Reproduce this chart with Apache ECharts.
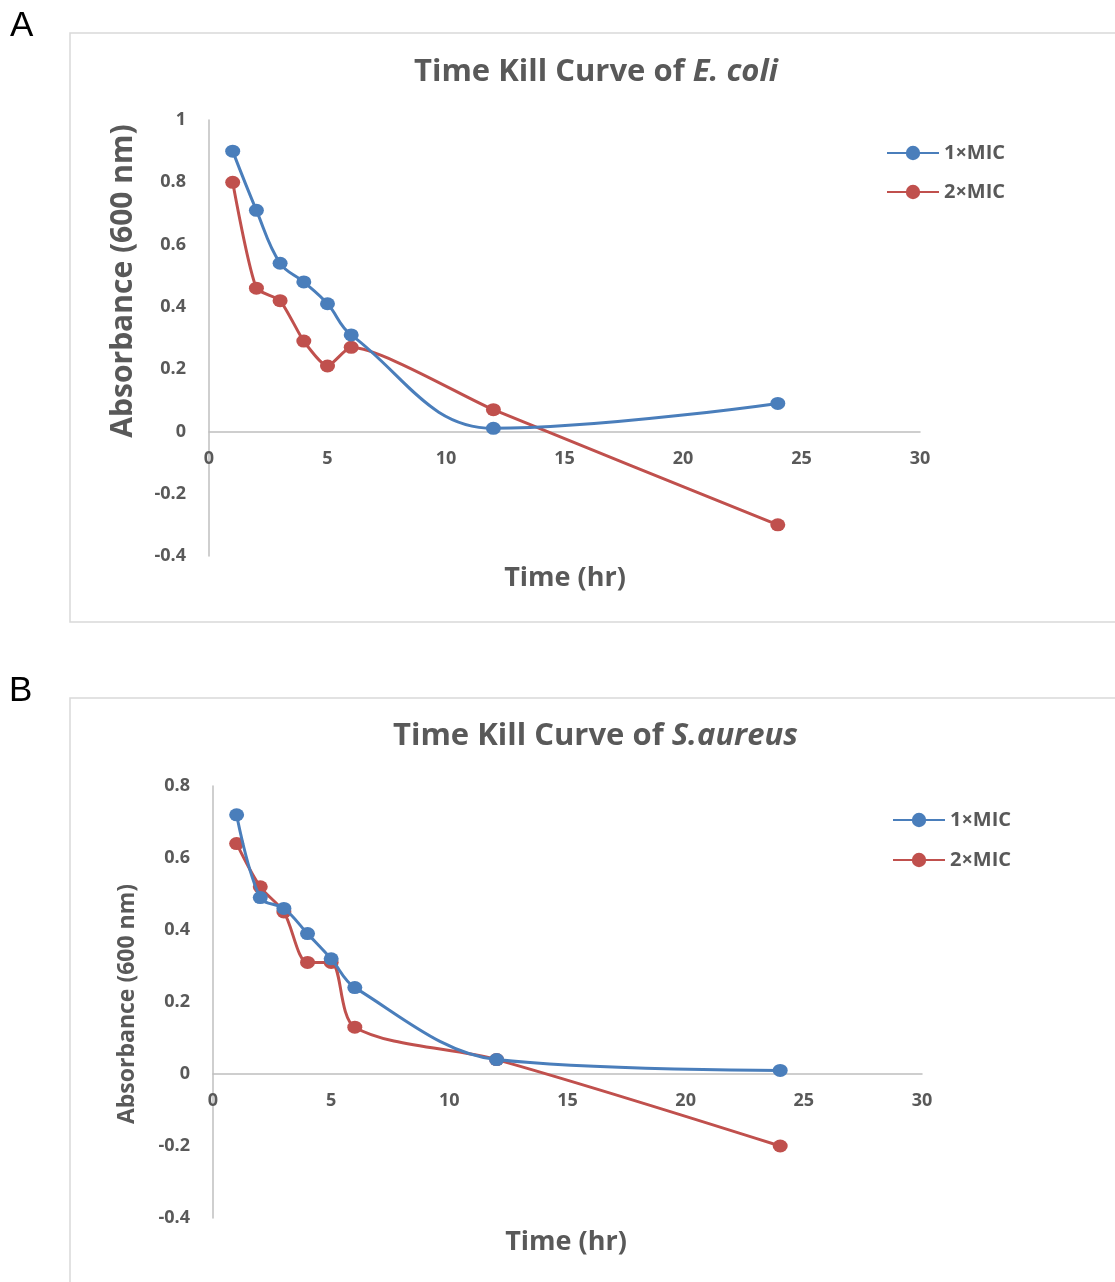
<!DOCTYPE html>
<html lang="en">
  <head>
    <meta charset="UTF-8" />
    <title>Time Kill Curves</title>
    <script src="https://cdn.jsdelivr.net/npm/echarts@6/dist/echarts.min.js"></script>
    <style>
      html,
      body {
        margin: 0;
        padding: 0;
        background: #fff;
      }
    </style>
  </head>
  <body>
    <div id="main" style="width: 1115px; height: 1282px"></div>
    <script>
      // sampling times (hr)
      var hours = [1, 2, 3, 4, 5, 6, 12, 24];
      // E. coli absorbance (600 nm)
      var ecoli1x = [0.9, 0.71, 0.54, 0.48, 0.41, 0.31, 0.01, 0.09];
      var ecoli2x = [0.8, 0.46, 0.42, 0.29, 0.21, 0.27, 0.07, -0.3];
      // S. aureus absorbance (600 nm)
      var saureus1x = [0.72, 0.49, 0.46, 0.39, 0.32, 0.24, 0.04, 0.01];
      var saureus2x = [0.64, 0.52, 0.45, 0.31, 0.31, 0.13, 0.04, -0.2];
      var seriesNames = ["1×MIC", "2×MIC"];

      var blue = "#4A7EBB";
      var red = "#C0504D";
      var grey = "#595959";
      var axisGrey = "#bfbfbf";

      // two panels: grid box + y range
      var grids = [
        { left: 209, top: 120, width: 711, height: 436, yMin: -0.4, yMax: 1 },
        { left: 213, top: 786, width: 709, height: 432, yMin: -0.4, yMax: 0.8 },
      ];

      function pairs(xs, ys) {
        return xs.map(function (x, i) {
          return [x, ys[i]];
        });
      }

      function lineSeries(name, data, color, idx, smooth) {
        return {
          name: name,
          type: "line",
          xAxisIndex: idx,
          yAxisIndex: idx,
          data: data,
          smooth: smooth,
          symbol: "circle",
          symbolSize: [15, 13],
          color: color,
          lineStyle: { width: 3, color: color },
          itemStyle: { color: color },
          z: name === seriesNames[0] ? 3 : 2,
        };
      }

      var tickFont = {
        color: grey,
        fontFamily: "Open Sans",
        fontWeight: "bold",
        fontSize: 18,
      };

      // x axis sits on the zero line, labels below it (Excel style)
      function xAxisOf(idx) {
        var g = grids[idx];
        var zeroUp = (g.height * (0 - g.yMin)) / (g.yMax - g.yMin);
        return {
          type: "value",
          gridIndex: idx,
          min: 0,
          max: 30,
          interval: 5,
          offset: -zeroUp,
          axisLine: { onZero: false, lineStyle: { color: axisGrey, width: 1.5 } },
          axisTick: { show: false },
          splitLine: { show: false },
          axisLabel: Object.assign({ margin: 18 }, tickFont),
        };
      }

      function yAxisOf(idx) {
        var g = grids[idx];
        return {
          type: "value",
          gridIndex: idx,
          min: g.yMin,
          max: g.yMax,
          interval: 0.2,
          axisLine: { show: true, onZero: false, lineStyle: { color: axisGrey, width: 1.5 } },
          axisTick: { show: false },
          splitLine: { show: false },
          axisLabel: Object.assign({ margin: 23 }, tickFont),
        };
      }

      var titleRich = {
        n: { fontFamily: "Open Sans", fontWeight: "bold", fontSize: 31, color: grey },
        i: { fontFamily: "Open Sans", fontWeight: "bold", fontStyle: "italic", fontSize: 31, color: grey },
      };
      var legendText = { color: grey, fontFamily: "Open Sans", fontWeight: "bold", fontSize: 20 };

      var myChart = echarts.init(document.getElementById("main"));

      var option = {
        backgroundColor: "#fff",
        animation: false,
        title: [
          {
            text: "{n|Time Kill Curve of }{i|E. coli}",
            left: 409,
            top: 52,
            textStyle: { rich: titleRich },
          },
          {
            text: "{n|Time Kill Curve of }{i|S.aureus}",
            left: 388,
            top: 716,
            textStyle: { rich: titleRich },
          },
        ],
        legend: [
          {
            data: seriesNames,
            orient: "vertical",
            left: 881,
            top: 138,
            itemWidth: 52,
            itemHeight: 18,
            itemGap: 19,
            textStyle: legendText,
          },
          {
            data: seriesNames,
            orient: "vertical",
            left: 887,
            top: 805,
            itemWidth: 52,
            itemHeight: 18,
            itemGap: 20,
            textStyle: legendText,
          },
        ],
        grid: grids.map(function (g) {
          return { left: g.left, top: g.top, width: g.width, height: g.height };
        }),
        xAxis: [xAxisOf(0), xAxisOf(1)],
        yAxis: [yAxisOf(0), yAxisOf(1)],
        series: [
          lineSeries(seriesNames[0], pairs(hours, ecoli1x), blue, 0, 0.4),
          lineSeries(seriesNames[1], pairs(hours, ecoli2x), red, 0, 0.2),
          lineSeries(seriesNames[0], pairs(hours, saureus1x), blue, 1, 0.35),
          lineSeries(seriesNames[1], pairs(hours, saureus2x), red, 1, 0.3),
        ],
        graphic: [
          // panel frames
          {
            type: "rect",
            shape: { x: 70, y: 33, width: 1060, height: 589 },
            style: { fill: "none", stroke: "#d9d9d9", lineWidth: 1.5 },
            silent: true,
          },
          {
            type: "rect",
            shape: { x: 70, y: 698, width: 1060, height: 620 },
            style: { fill: "none", stroke: "#d9d9d9", lineWidth: 1.5 },
            silent: true,
          },
          // panel letters
          {
            type: "text",
            x: 10,
            y: 9,
            style: { text: "A", font: "35px 'Liberation Sans'", fill: "#000" },
          },
          {
            type: "text",
            x: 9,
            y: 674,
            style: { text: "B", font: "35px 'Liberation Sans'", fill: "#000" },
          },
          // axis names
          {
            type: "text",
            x: 123,
            y: 281,
            rotation: Math.PI / 2,
            style: {
              text: "Absorbance (600 nm)",
              font: "bold 30px 'Open Sans'",
              fill: grey,
              align: "center",
              verticalAlign: "middle",
            },
          },
          {
            type: "text",
            x: 565,
            y: 578,
            style: {
              text: "Time (hr)",
              font: "bold 27px 'Open Sans'",
              fill: grey,
              align: "center",
              verticalAlign: "middle",
            },
          },
          {
            type: "text",
            x: 127,
            y: 1004,
            rotation: Math.PI / 2,
            style: {
              text: "Absorbance (600 nm)",
              font: "bold 23px 'Open Sans'",
              fill: grey,
              align: "center",
              verticalAlign: "middle",
            },
          },
          {
            type: "text",
            x: 566,
            y: 1242,
            style: {
              text: "Time (hr)",
              font: "bold 27px 'Open Sans'",
              fill: grey,
              align: "center",
              verticalAlign: "middle",
            },
          },
        ],
      };

      myChart.setOption(option);
    </script>
  </body>
</html>
